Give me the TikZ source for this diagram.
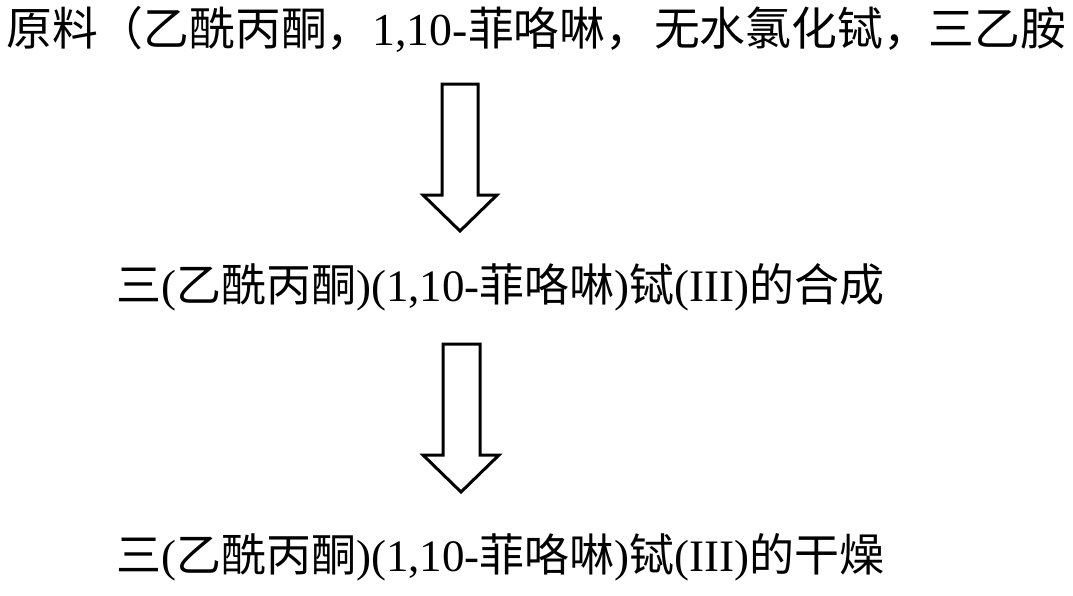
\documentclass[tikz,border=0pt]{standalone}
\usepackage{fontspec}
\setmainfont{Liberation Serif}
\newfontfamily\cjk{Noto Sans CJK SC}
\newcommand{\zh}[1]{{\cjk #1}}
\tikzset{
  label/.style={inner sep=0pt, anchor=base west, font=\fontsize{45}{54}\selectfont},
  biglabel/.style={label, font=\fontsize{45.8}{55}\selectfont},
  blockarrow/.style={draw=black, line width=3pt, fill=white, line join=miter}
}
\begin{document}
\begin{tikzpicture}[x=1pt,y=-1pt]
\useasboundingbox[fill=white] (0,0) rectangle (1073,595);
\node[biglabel] (raw) at (6,45.5) {\zh{原料（乙酰丙酮，}1,10-\zh{菲咯啉，}\hspace{3pt}\zh{无水氯化铽，三乙胺}};
\node[label] (syn) at (116,301.5) {\zh{三}(\zh{乙酰丙酮})(1,10-\zh{菲咯啉})\zh{铽}(III)\zh{的合成}};
\node[label] (dry) at (116,571.5) {\zh{三}(\zh{乙酰丙酮})(1,10-\zh{菲咯啉})\zh{铽}(III)\zh{的干燥}};
% block arrows
\draw[blockarrow] (442,84) -- (478,84) -- (478,195) -- (497,195) -- (460,231) -- (423,195) -- (442,195) -- cycle;
\draw[blockarrow] (443,344) -- (480,344) -- (480,455) -- (499,455) -- (461,492) -- (423,455) -- (443,455) -- cycle;
\end{tikzpicture}
\end{document}
